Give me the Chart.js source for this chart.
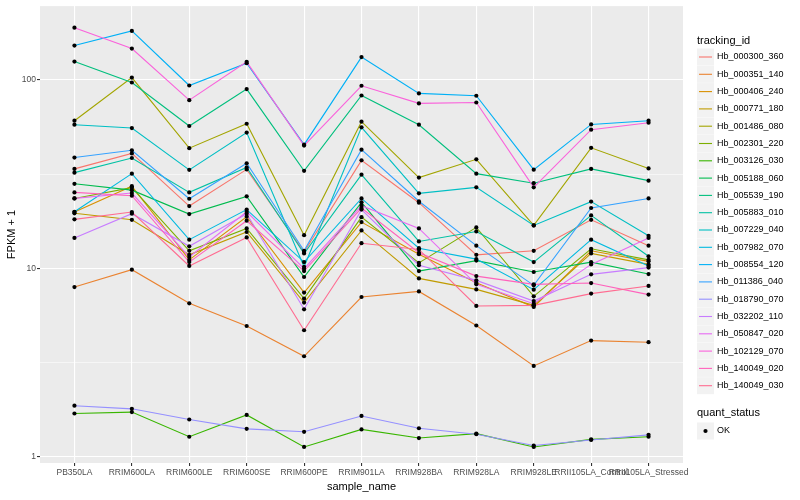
<!DOCTYPE html>
<html>
<head>
<meta charset="utf-8">
<script src="https://cdn.jsdelivr.net/npm/chart.js@4"></script>
<style>
  body { margin: 0; background: #fff; }
  #wrap { width: 800px; height: 500px; }
</style>
</head>
<body>
<div id="wrap"><canvas id="fpkmChart"></canvas></div>
<script>
// sample names on the x axis
var samples = ['PB350LA', 'RRIM600LA', 'RRIM600LE', 'RRIM600SE', 'RRIM600PE', 'RRIM901LA',
  'RRIM928BA', 'RRIM928LA', 'RRIM928LE', 'RRII105LA_Control', 'RRII105LA_Stressed'];

// FPKM + 1 per tracking_id
var hb_000300_360 = [33.7, 40.7, 21.4, 33.5, 12.2, 37.4, 22.3, 11.8, 12.4, 18.1, 13.2];
var hb_000351_140 = [7.96, 9.84, 6.53, 4.95, 3.42, 7.05, 7.55, 4.98, 3.04, 4.14, 4.06];
var hb_000406_240 = [19.9, 27.3, 11.1, 18.8, 7.44, 17.6, 11.9, 8.4, 6.24, 12.4, 10.9];
var hb_000771_180 = [19.6, 18.1, 11.8, 15.6, 6.59, 15.9, 8.85, 7.74, 6.37, 12.0, 10.5];
var hb_001486_080 = [60.7, 102.8, 43.4, 58.5, 15.0, 60.0, 30.3, 37.9, 16.9, 43.6, 33.9];
var hb_002301_220 = [23.5, 26.8, 12.4, 16.3, 6.91, 18.7, 10.7, 16.5, 7.11, 12.7, 11.1];
var hb_003126_030 = [1.70, 1.73, 1.28, 1.67, 1.13, 1.40, 1.26, 1.33, 1.13, 1.24, 1.28];
var hb_005188_060 = [28.1, 26.0, 19.4, 24.1, 9.0, 22.4, 9.68, 11.0, 9.57, 10.8, 9.33];
var hb_005539_190 = [125, 96.8, 56.9, 89.3, 32.9, 82.6, 57.8, 31.8, 28.3, 33.7, 29.2];
var hb_005883_010 = [32.2, 38.5, 25.3, 34.3, 12.0, 31.4, 13.9, 15.7, 10.8, 19.1, 11.6];
var hb_007229_040 = [57.8, 55.5, 33.3, 52.5, 10.2, 56.0, 25.0, 26.9, 16.9, 22.6, 14.9];
var hb_007982_070 = [19.95, 31.8, 14.2, 20.5, 10.8, 23.5, 12.8, 11.2, 7.71, 14.2, 10.3];
var hb_008554_120 = [152, 181.6, 93.3, 122.5, 45.3, 132, 84.7, 82.3, 33.4, 58, 60.7];
var hb_011386_040 = [38.7, 42.3, 23.4, 36.1, 12.4, 42.6, 22.7, 13.2, 8.13, 20.9, 23.5];
var hb_018790_070 = [1.87, 1.80, 1.58, 1.41, 1.36, 1.65, 1.42, 1.32, 1.15, 1.23, 1.31];
var hb_032202_110 = [14.5, 19.5, 13.1, 19.5, 6.07, 20.5, 10.4, 8.64, 6.71, 9.3, 10.1];
var hb_050847_020 = [23.5, 25.1, 11.5, 19.95, 9.96, 21.5, 16.3, 8.23, 6.5, 10.5, 14.5];
var hb_102129_070 = [189, 146.5, 78, 124.5, 44.8, 93, 75, 75.8, 26.9, 54.4, 59.2];
var hb_140049_020 = [25.3, 24.3, 10.8, 17.9, 9.68, 20.9, 12.1, 9.1, 8.23, 8.36, 7.26];
var hb_140049_030 = [18.2, 19.9, 10.3, 14.6, 4.70, 13.6, 12.6, 6.32, 6.37, 7.35, 8.07];

var trackingIds = ['Hb_000300_360', 'Hb_000351_140', 'Hb_000406_240', 'Hb_000771_180', 'Hb_001486_080',
  'Hb_002301_220', 'Hb_003126_030', 'Hb_005188_060', 'Hb_005539_190', 'Hb_005883_010',
  'Hb_007229_040', 'Hb_007982_070', 'Hb_008554_120', 'Hb_011386_040', 'Hb_018790_070',
  'Hb_032202_110', 'Hb_050847_020', 'Hb_102129_070', 'Hb_140049_020', 'Hb_140049_030'];
var seriesValues = [hb_000300_360, hb_000351_140, hb_000406_240, hb_000771_180, hb_001486_080,
  hb_002301_220, hb_003126_030, hb_005188_060, hb_005539_190, hb_005883_010,
  hb_007229_040, hb_007982_070, hb_008554_120, hb_011386_040, hb_018790_070,
  hb_032202_110, hb_050847_020, hb_102129_070, hb_140049_020, hb_140049_030];

// y ticks: major ones get labels, the half-decade ones are just grid
var yMajorTicks = [1, 10, 100];
var yMinorTicks = [3.162, 31.62];

// ggplot default hue palette for 20 levels
var colors = ['#F8766D', '#EA8331', '#D89000', '#C09B00', '#A3A500', '#7CAE00', '#39B600', '#00BB4E',
  '#00BF7D', '#00C1A3', '#00BFC4', '#00BAE0', '#00B0F6', '#35A2FF', '#9590FF', '#C77CFF',
  '#E76BF3', '#FA62DB', '#FF62BC', '#FF6C91'];

var FONT = '"Liberation Sans", Arial, sans-serif';

function toPoints(vals) {
  return vals.map((v, i) => ({ x: i, y: v }));
}

var datasets = [];
var allPoints = [];
seriesValues.forEach((vals, i) => {
  datasets.push({
    label: trackingIds[i],
    data: toPoints(vals),
    borderColor: colors[i],
    borderWidth: 1.1,
    pointRadius: 0,
    fill: false,
    tension: 0,
    order: 1 + (19 - i)
  });
  allPoints = allPoints.concat(toPoints(vals));
});
// black OK points on top
datasets.push({
  label: 'OK',
  data: allPoints,
  showLine: false,
  pointRadius: 2.1,
  pointBackgroundColor: '#000',
  pointBorderWidth: 0,
  pointStyle: 'circle',
  order: 0
});

var ggPlugin = {
  id: 'ggstuff',
  beforeDraw(chart) {
    var c = chart.ctx, a = chart.chartArea;
    c.save();
    c.fillStyle = '#fff';
    c.fillRect(0, 0, chart.width, chart.height);
    c.fillStyle = '#EBEBEB';
    c.fillRect(a.left, a.top, a.right - a.left, a.bottom - a.top);
    c.restore();
  },
  afterDraw(chart) {
    var c = chart.ctx, a = chart.chartArea;
    c.save();
    // axis titles
    c.fillStyle = '#000';
    c.font = '11px ' + FONT;
    c.textAlign = 'center';
    c.textBaseline = 'middle';
    c.fillText('sample_name', (a.left + a.right) / 2, 487);
    c.translate(12, (a.top + a.bottom) / 2);
    c.rotate(-Math.PI / 2);
    c.fillText('FPKM + 1', 0, 0);
    c.restore();

    // legend
    c.save();
    c.textAlign = 'left';
    c.textBaseline = 'middle';
    c.fillStyle = '#000';
    c.font = '11px ' + FONT;
    c.fillText('tracking_id', 697, 41);
    c.font = '9px ' + FONT;
    trackingIds.forEach((id, i) => {
      var y = 57 + i * 17.3;
      c.fillStyle = '#F2F2F2';
      c.fillRect(697, y - 8.5, 17, 17);
      c.strokeStyle = colors[i];
      c.lineWidth = 1.1;
      c.beginPath();
      c.moveTo(699, y);
      c.lineTo(712, y);
      c.stroke();
      c.fillStyle = '#000';
      c.fillText(id, 717, y);
    });
    c.font = '11px ' + FONT;
    c.fillText('quant_status', 697, 413);
    c.fillStyle = '#F2F2F2';
    c.fillRect(697, 431 - 8.5, 17, 17);
    c.fillStyle = '#000';
    c.beginPath();
    c.arc(705.5, 431, 2.1, 0, Math.PI * 2);
    c.fill();
    c.font = '9px ' + FONT;
    c.fillText('OK', 717, 431);
    c.restore();
  }
};

new Chart(document.getElementById('fpkmChart'), {
  type: 'line',
  data: { datasets: datasets },
  plugins: [ggPlugin],
  options: {
    responsive: true,
    maintainAspectRatio: false,
    animation: false,
    layout: { padding: { top: 5, right: 117, left: 0, bottom: 0 } },
    plugins: { legend: { display: false }, tooltip: { enabled: false } },
    scales: {
      x: {
        type: 'linear',
        min: -0.6,
        max: samples.length - 1 + 0.6,
        afterBuildTicks: s => { s.ticks = samples.map((n, i) => ({ value: i })); },
        afterFit: s => { s.height = 37; },
        border: { display: false },
        grid: { color: '#fff', lineWidth: 1.1, tickLength: 3, tickColor: '#333' },
        ticks: {
          color: '#4D4D4D',
          font: { family: FONT, size: 8.5 },
          padding: 2,
          maxRotation: 0,
          autoSkip: false,
          callback: v => samples[v]
        }
      },
      y: {
        type: 'logarithmic',
        min: 0.929,
        max: 246,
        afterBuildTicks: s => {
          s.ticks = yMajorTicks.concat(yMinorTicks).sort((p, q) => p - q).map(v => ({ value: v }));
        },
        afterFit: s => { s.width = 40; },
        border: { display: false },
        grid: {
          color: '#fff',
          lineWidth: ctx => (yMajorTicks.indexOf(ctx.tick.value) >= 0 ? 1.1 : 0.55),
          tickLength: 3,
          tickColor: ctx => (yMajorTicks.indexOf(ctx.tick.value) >= 0 ? '#333' : 'rgba(0,0,0,0)')
        },
        ticks: {
          color: '#4D4D4D',
          font: { family: FONT, size: 8.5 },
          padding: 1,
          autoSkip: false,
          callback: v => (yMajorTicks.indexOf(v) >= 0 ? String(v) : '')
        }
      }
    }
  }
});
</script>
</body>
</html>
